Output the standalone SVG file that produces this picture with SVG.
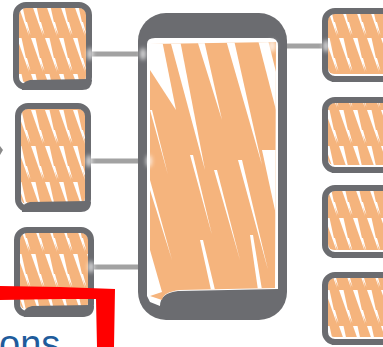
<svg xmlns="http://www.w3.org/2000/svg" width="383" height="347" viewBox="0 0 383 347">
  <style>
    .frame { fill: none; stroke: #6b6c70; stroke-width: 6; }
    .base { fill: #6b6c70; }
    .paint { fill: #f5b47d; }
    .gap { fill: #ffffff; }
    .link { stroke: #a2a2a2; stroke-width: 5; fill: none; }
    .glow { fill: #ffffff; opacity: 0.75; filter: url(#soft); }
    .label { font-family: "Liberation Sans", Arial, sans-serif; font-size: 38px; fill: #1f5c9c; }
  </style>
  <defs>
    <filter id="soft" x="-1" y="-1" width="3" height="3">
      <feGaussianBlur stdDeviation="2"/>
    </filter>
    <!-- hand-coloured streaks for the small blocks -->
    <pattern id="streakS" patternUnits="userSpaceOnUse" width="14" height="36" patternTransform="translate(3 2)">
      <polygon points="0,0 4.5,0 12,34" fill="#ffffff"/>
      <polygon points="7.5,20 10,20 13.5,33" fill="#ffffff"/>
    </pattern>
    <clipPath id="coreClip">
      <path d="M150,44 L276,42 L275,288 L180,290 Q163,292 162,300 L150,296 Z"/>
    </clipPath>
  </defs>

  <!-- connectors -->
  <g id="connectors">
    <line class="link" x1="92" y1="54" x2="143" y2="54"/>
    <line class="link" x1="91" y1="161" x2="147" y2="161"/>
    <line class="link" x1="93" y1="267" x2="140" y2="267"/>
    <line class="link" x1="272" y1="46" x2="324" y2="46"/>
  </g>

  <!-- left column -->
  <g id="in1">
    <rect class="paint" x="19" y="8" width="67" height="74" rx="6"/>
    <rect fill="url(#streakS)" x="19" y="8" width="67" height="74"/>
    <rect class="frame" x="16" y="5" width="73" height="82" rx="10"/>
    <path class="base" d="M22,90 L82,90 Q92,90 92,80 L88,79 L30,80 Q20,82 22,90 Z"/>
  </g>
  <g id="in2">
    <rect class="paint" x="21" y="109" width="64" height="95" rx="6"/>
    <rect fill="url(#streakS)" x="21" y="109" width="64" height="95"/>
    <rect class="frame" x="18" y="106" width="70" height="103" rx="10"/>
    <path class="base" d="M22,212 L80,212 Q91,212 91,202 L87,201 L30,202 Q20,204 22,212 Z"/>
  </g>
  <g id="in3">
    <rect class="paint" x="20" y="233" width="68" height="76" rx="6"/>
    <rect fill="url(#streakS)" x="20" y="233" width="68" height="76"/>
    <rect class="frame" x="17" y="230" width="74" height="84" rx="10"/>
    <path class="base" d="M24,317 L82,317 Q94,317 94,306 L90,305 L32,306 Q22,308 24,317 Z"/>
  </g>

  <!-- central block -->
  <g id="core">
    <rect class="base" x="138" y="13" width="149" height="307" rx="28"/>
    <path fill="#ffffff" d="M147,44 Q147,38 155,38 L270,38 Q278,38 278,46 L278,289 L178,291 Q160,293 160,306 L150,302 L147,296 Z"/>
    <path class="paint" d="M150,44 L276,42 L275,288 L180,290 Q163,292 162,300 L150,296 Z"/>
    <g clip-path="url(#coreClip)">
      <!-- white gaps left between the broad strokes -->
      <polygon class="gap" points="150,40 162,40 176,110 150,70"/>
      <polygon class="gap" points="170,40 180,40 205,170"/>
      <polygon class="gap" points="197,40 204,40 222,120"/>
      <polygon class="gap" points="226,40 234,40 262,165"/>
      <polygon class="gap" points="258,40 268,40 276,72 276,110"/>
      <polygon class="gap" points="150,110 152,110 168,175"/>
      <polygon class="gap" points="150,190 150,180 172,260"/>
      <polygon class="gap" points="150,250 162,292 150,296"/>
      <polygon class="gap" points="190,155 193,155 212,235"/>
      <polygon class="gap" points="214,170 217,170 240,260"/>
      <polygon class="gap" points="238,160 242,160 268,270"/>
      <polygon class="gap" points="262,150 276,150 276,215"/>
      <polygon class="gap" points="200,240 203,240 215,290 211,290"/>
      <polygon class="gap" points="250,235 253,235 262,290 258,290"/>
    </g>
  </g>

  <!-- right column -->
  <g id="out1">
    <rect class="paint" x="328" y="14" width="62" height="60" rx="6"/>
    <rect fill="url(#streakS)" x="328" y="14" width="62" height="60"/>
    <rect class="frame" x="325" y="11" width="70" height="68" rx="10"/>
    <path class="base" d="M332,82 L390,82 L390,76 L338,76 Q330,77 332,82 Z"/>
  </g>
  <g id="out2">
    <rect class="paint" x="328" y="103" width="62" height="62" rx="6"/>
    <rect fill="url(#streakS)" x="328" y="103" width="62" height="62"/>
    <rect class="frame" x="325" y="100" width="70" height="70" rx="10"/>
    <path class="base" d="M332,173 L390,173 L390,167 L338,167 Q330,168 332,173 Z"/>
  </g>
  <g id="out3">
    <rect class="paint" x="328" y="191" width="62" height="59" rx="6"/>
    <rect fill="url(#streakS)" x="328" y="191" width="62" height="59"/>
    <rect class="frame" x="325" y="188" width="70" height="67" rx="10"/>
    <path class="base" d="M332,258 L390,258 L390,252 L338,252 Q330,253 332,258 Z"/>
  </g>
  <g id="out4">
    <rect class="paint" x="328" y="278" width="62" height="59" rx="6"/>
    <rect fill="url(#streakS)" x="328" y="278" width="62" height="59"/>
    <rect class="frame" x="325" y="275" width="70" height="67" rx="10"/>
    <path class="base" d="M332,345 L390,345 L390,339 L338,339 Q330,340 332,345 Z"/>
  </g>

  <!-- soft highlights where the links meet the frames -->
  <g id="highlights">
    <ellipse class="glow" cx="90" cy="54" rx="3" ry="6"/>
    <ellipse class="glow" cx="143" cy="54" rx="3" ry="6"/>
    <ellipse class="glow" cx="89" cy="161" rx="3" ry="6"/>
    <ellipse class="glow" cx="149" cy="161" rx="3" ry="6"/>
    <ellipse class="glow" cx="91" cy="267" rx="3" ry="6"/>
    <ellipse class="glow" cx="272" cy="46" rx="4" ry="6"/>
    <ellipse class="glow" cx="326" cy="46" rx="3" ry="6"/>
  </g>

  <!-- small mark at the left edge -->
  <path d="M0,146 L3,150 L0,155 Z" fill="#8a8a8a"/>

  <!-- red marker stroke -->
  <path d="M0,286 L60,287 L115,289 L114,347 L97,347 L96,299 L60,299 L0,300 Z" fill="#ff0000"/>

  <text class="label" x="-1" y="357">ons</text>
</svg>
